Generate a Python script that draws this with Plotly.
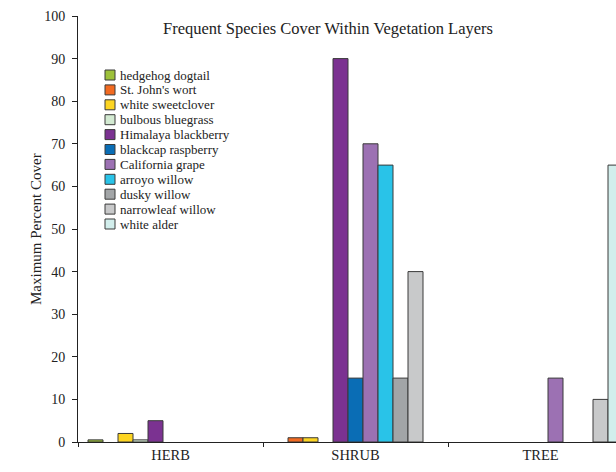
import plotly.graph_objects as go

layers = ["HERB", "SHRUB", "TREE"]
species = ["hedgehog dogtail", "St. John's wort", "white sweetclover", "bulbous bluegrass",
           "Himalaya blackberry", "blackcap raspberry", "California grape", "arroyo willow",
           "dusky willow", "narrowleaf willow", "white alder"]
colors = ["#9dc13a", "#f26a21", "#fdd522", "#d3ead2", "#7b3291", "#0a6db5",
          "#9c71b3", "#29c3e8", "#a2a5a7", "#c8c9ca", "#d2eeec"]

herb_values = [0.5, None, 2, 0.5, 5, None, None, None, None, None, None]
shrub_values = [None, 1, 1, None, 90, 15, 70, 65, 15, 40, None]
tree_values = [None, None, None, None, None, None, 15, None, None, 10, 65]

y_ticks = list(range(0, 101, 10))

FONT = "Liberation Serif, Times New Roman, serif"
W, H = 616, 472
PL, PT, PB = 78, 16, 442     # plot area in page pixels
L, T = PL, PT
B = H - PB
plot_w = W - L
plot_h = H - T - B
cat_px = 185.0
x_hi = -0.5 + plot_w / cat_px

fig = go.Figure()
for i, name in enumerate(species):
    fig.add_trace(go.Bar(
        x=layers,
        y=[herb_values[i], shrub_values[i], tree_values[i]],
        name=name,
        marker=dict(color=colors[i], line=dict(color="#3a3a3a", width=1)),
        showlegend=False,
    ))

# manual legend (compact spacing like the reference)
shapes = []
annotations = []
leg_x0 = (105 - PL) / plot_w
leg_x1 = (115 - PL) / plot_w
txt_x = (118 - PL) / plot_w
for i, name in enumerate(species):
    ypx = 75 + i * 14.9
    yc = (PB - ypx) / plot_h
    shapes.append(dict(type="rect", xref="paper", yref="paper",
                       x0=leg_x0, x1=leg_x1, y0=yc - 5 / plot_h, y1=yc + 5 / plot_h,
                       fillcolor=colors[i], line=dict(color="#3a3a3a", width=1)))
    annotations.append(dict(x=txt_x, y=yc, xref="paper", yref="paper", text=name,
                            showarrow=False, xanchor="left", yanchor="middle",
                            font=dict(family=FONT, size=13, color="#222")))

# y-axis title
annotations.append(dict(x=(36 - PL) / plot_w, y=0.5, xref="paper", yref="paper",
                        text="Maximum Percent Cover", textangle=-90, showarrow=False,
                        xanchor="center", yanchor="middle",
                        font=dict(family=FONT, size=15, color="#222")))

fig.update_layout(
    width=W, height=H,
    margin=dict(l=L, r=0, t=T, b=B, pad=0),
    paper_bgcolor="white", plot_bgcolor="white",
    barmode="group", bargap=20 / 185, bargroupgap=0,
    font=dict(family=FONT, size=14, color="#222"),
    title=dict(text="Frequent Species Cover Within Vegetation Layers",
               x=328 / W, xanchor="center",
               y=1 - 28 / H, yanchor="middle",
               font=dict(family=FONT, size=16.5, color="#222")),
    xaxis=dict(type="category", range=[-0.5, x_hi], tickson="boundaries",
               ticks="outside", ticklen=4, tickcolor="#222", showline=True,
               linecolor="#222", linewidth=1, showgrid=False, zeroline=False,
               tickfont=dict(family=FONT, size=14.5, color="#222")),
    xaxis2=dict(overlaying="x", range=[-0.5, x_hi], tickvals=[-0.5, 0.5, 1.5],
                ticks="inside", ticklen=4, tickcolor="#222", showticklabels=False,
                showline=False, showgrid=False, zeroline=False, anchor="y"),
    yaxis=dict(range=[0, 100], tickvals=y_ticks, ticks="outside", ticklen=5,
               tickcolor="#222", showline=True, linecolor="#222", linewidth=1,
               showgrid=False, zeroline=False, ticklabelstandoff=4,
               tickfont=dict(family=FONT, size=14, color="#222")),
    yaxis2=dict(overlaying="y", range=[0, 100], tickvals=y_ticks, ticks="inside",
                ticklen=5, tickcolor="#222", showticklabels=False, showline=False,
                showgrid=False, zeroline=False, anchor="x", side="left"),
    shapes=shapes,
    annotations=annotations,
)

fig.write_html(
    "out.html",
    config={"displayModeBar": False},
    post_script="document.body.style.margin='0';document.body.style.overflow='hidden';",
)
